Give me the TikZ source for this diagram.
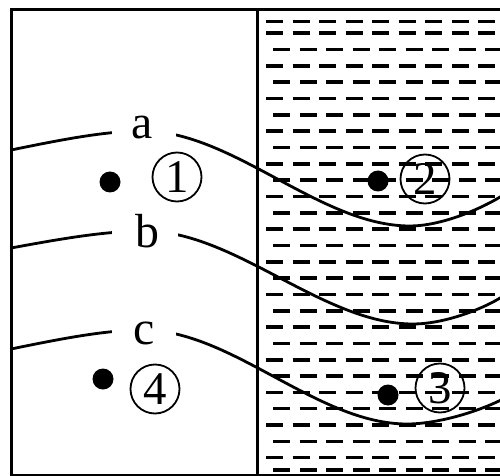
\documentclass[tikz,border=0pt]{standalone}
\usepackage{fontspec}
\setmainfont{Liberation Serif}
\begin{document}
\begin{tikzpicture}[x=1bp,y=-1bp,
  frameline/.style={line width=3bp,black},
  curveline/.style={line width=2.8bp,black},
  dashrow/.style={line width=3.6bp,black,dash pattern=on 17bp off 9.5bp},
  letterlabel/.style={anchor=base,inner sep=0pt,font=\fontsize{48}{52}\selectfont},
  dotmark/.style={circle,fill=black,minimum size=21bp,inner sep=0pt},
  circnum/.style={circle,draw,line width=1.8bp,minimum size=49bp,inner sep=0pt,font=\fontsize{47}{50}\selectfont}]
\useasboundingbox (0,0) rectangle (500,476);
\clip (0,0) rectangle (500,476);
% water hatching
\foreach \yy/\xs in {21.7/266, 470/273} {
  \draw[dashrow] (\xs,\yy) -- (520,\yy);
}
\foreach \k in {0,...,26} {
  \pgfmathsetmacro{\yy}{33.3+16.32*\k}
  \pgfmathsetmacro{\xs}{isodd(\k) ? 273 : 266}
  \draw[dashrow] (\xs,\yy) -- (520,\yy);
}
% frame
\draw[frameline] (510,10) -- (11,10) -- (11,475) -- (510,475);
\draw[frameline] (257,10) -- (257,475);
% curves
\draw[curveline] (11,150) .. controls (60,140) and (105,131) .. (143,131)
  .. controls (233,131) and (320,226) .. (410,226)
  .. controls (440,226) and (480,210) .. (505,194);
\draw[curveline] (11,248) .. controls (60,239) and (105,231) .. (145,231)
  .. controls (235,231) and (323,324) .. (413,324)
  .. controls (443,324) and (482,310) .. (505,295);
\draw[curveline] (11,349) .. controls (60,339) and (105,330) .. (143,330)
  .. controls (232,330) and (317,424) .. (407,424)
  .. controls (437,424) and (478,412) .. (505,398);
% gaps for labels
\fill[white] (112,120) rectangle (176,142);
\fill[white] (112,219) rectangle (178,242);
\fill[white] (112,318) rectangle (176,341);
% labels
\node[letterlabel] (la) at (142,139) {a};
\node[letterlabel] (lb) at (147,248) {b};
\node[letterlabel] (lc) at (144,344) {c};
% points
\node[dotmark] (d1) at (110,182) {};
\node[dotmark] (d2) at (378,181) {};
\node[dotmark] (d3) at (388,395) {};
\node[dotmark] (d4) at (103,379) {};
\node[circnum] (n1) at (177,177) {1};
\node[circnum] (n2) at (425,179) {2};
\node[circnum] (n3) at (440,388) {3};
\node[circnum] (n4) at (155,389) {4};
\end{tikzpicture}
\end{document}
